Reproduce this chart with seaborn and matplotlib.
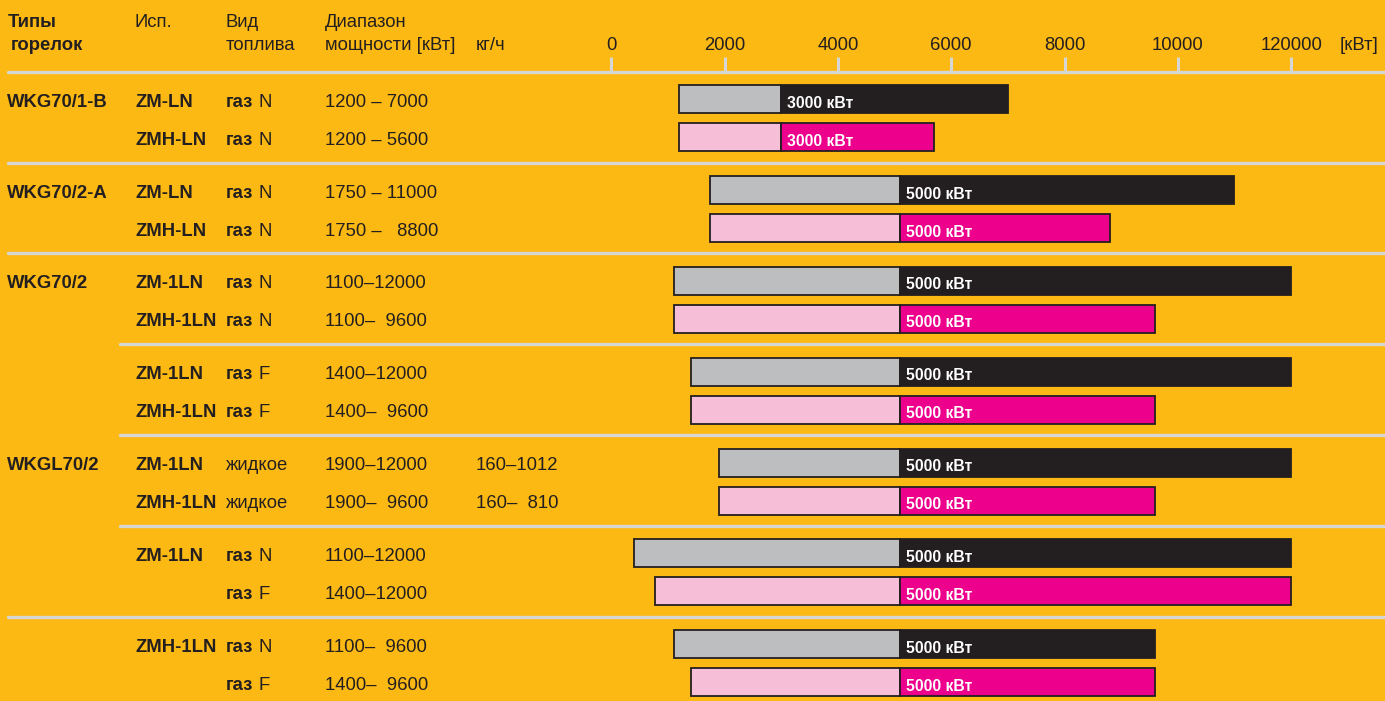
import matplotlib
matplotlib.use("Agg")
import matplotlib.pyplot as plt
import matplotlib.transforms as mtransforms
from matplotlib import font_manager
import numpy as np
import pandas as pd
import seaborn as sns

# --- chart data, rows top to bottom ---
MODELS = ["WKG70/1-B", "WKG70/2-A", "WKG70/2", "", "WKGL70/2", "", ""]
VERSIONS = ["ZM-LN", "ZMH-LN", "ZM-LN", "ZMH-LN", "ZM-1LN", "ZMH-1LN", "ZM-1LN",
            "ZMH-1LN", "ZM-1LN", "ZMH-1LN", "ZM-1LN", "", "ZMH-1LN", ""]
FUELS = ["газ N", "газ N", "газ N", "газ N", "газ N", "газ N", "газ F", "газ F",
         "жидкое", "жидкое", "газ N", "газ F", "газ N", "газ F"]
POWER_RANGES = ["1200 – 7000", "1200 – 5600", "1750 – 11000", "1750 –   8800",
                "1100–12000", "1100–  9600", "1400–12000", "1400–  9600",
                "1900–12000", "1900–  9600", "1100–12000", "1400–12000",
                "1100–  9600", "1400–  9600"]
MASS_RANGES = ["", "", "", "", "", "", "", "", "160–1012", "160–  810", "", "", "", ""]
BAR_START = [1200, 1200, 1750, 1750, 1100, 1100, 1400, 1400, 1900, 1900, 400, 770, 1100, 1400]
BAR_SWITCH = [3000, 3000, 5100, 5100, 5100, 5100, 5100, 5100, 5100, 5100, 5100, 5100, 5100, 5100]
BAR_END = [7000, 5700, 11000, 8800, 12000, 9600, 12000, 9600, 12000, 9600, 12000, 12000, 9600, 9600]
SWITCH_LABELS = ["3000 кВт", "3000 кВт"] + ["5000 кВт"] * 12
TICKS = [0, 2000, 4000, 6000, 8000, 10000, 12000]
TICK_LABELS = ["0", "2000", "4000", "6000", "8000", "10000", "120000"]

# --- layout (pixels of the 1385x701 picture) ---
W, H = 1385, 701
ROW0 = 99.3
GROUP_STEP = 90.8
ROW_STEP = 38.0
BAR_H = 28.0
SEP_OFFSET = 27.5
SEP_FULL = [True, True, True, False, False, False, True]
X0_PX = 611.3
PX_PER_KW = 0.05665

BG = "#FDB913"
INK = "#231F20"
RULE = "#D6D6D4"
LIGHT = ["#BCBEC0", "#F7BFD7"]
DARK = ["#231F20", "#EC008C"]
FS = 13.3

sns.set_theme(style="white")
installed = {f.name for f in font_manager.fontManager.ttflist}
FONT = "Liberation Sans" if "Liberation Sans" in installed else "DejaVu Sans"
plt.rcParams["font.family"] = [FONT, "DejaVu Sans"]

fig = plt.figure(figsize=(W / 100, H / 100), dpi=100, facecolor=BG)
ax = fig.add_axes([0, 0, 1, 1])
ax.set_facecolor(BG)

n = len(BAR_START)
ypos = [ROW0 + (i // 2) * GROUP_STEP + (i % 2) * ROW_STEP for i in range(n)]
df = pd.DataFrame({"y": ypos, "start": BAR_START, "switch": BAR_SWITCH, "end": BAR_END})
df["light"] = df["switch"] - df["start"]
df["dark"] = df["end"] - df["switch"]
frac = BAR_H / np.diff(df["y"]).min()

# light segment from start to switch, dark segment from switch to end
for col, left_col, pal in [("light", "start", LIGHT), ("dark", "switch", DARK)]:
    sns.barplot(data=df, x=col, y="y", orient="h", native_scale=True, width=frac,
                errorbar=None, color=pal[0], saturation=1,
                facecolor=[pal[i % 2] for i in range(n)],
                left=df[left_col].to_numpy(), edgecolor=INK, linewidth=1.3, ax=ax)

ax.set_xlim(-X0_PX / PX_PER_KW, (W - X0_PX) / PX_PER_KW)
ax.set_ylim(H, 0)
ax.set_axis_off()

# rules
for g, full in enumerate(SEP_FULL):
    y = ROW0 + g * GROUP_STEP - SEP_OFFSET
    ax.axhline(y, xmin=(8 if full else 120) / W, xmax=1, color=RULE, lw=2.4, zorder=1)
ax.vlines(TICKS, 57, ROW0 - SEP_OFFSET, color=RULE, lw=2.2, zorder=1)

# text helpers
tx = mtransforms.blended_transform_factory(fig.transFigure, ax.transData)


def put(px, y, s, bold=False, **kw):
    return ax.text(px / W, y, s, transform=tx, fontsize=FS, color=INK,
                   fontweight="bold" if bold else "normal", va="baseline", **kw)


# header
put(8, 27, "Типы", bold=True)
put(11, 49.5, "горелок", bold=True)
put(135, 27, "Исп.")
put(226, 27, "Вид")
put(226, 49.5, "топлива")
put(325, 27, "Диапазон")
put(325, 49.5, "мощности [кВт]")
put(476, 49.5, "кг/ч")
put(1340, 49.5, "[кВт]")
for t, lab in zip(TICKS, TICK_LABELS):
    ax.text(t, 49.5, lab, ha="center", va="baseline", fontsize=FS, color=INK)

# rows
for g, name in enumerate(MODELS):
    if name:
        put(7, ypos[2 * g] + 7.5, name, bold=True)

for i in range(n):
    yb = ypos[i] + 7.5
    if VERSIONS[i]:
        put(135, yb, VERSIONS[i], bold=True)
    fuel = FUELS[i]
    if fuel.startswith("газ"):
        head = put(226, yb, "газ", bold=True)
        ax.annotate(fuel.split()[1], xy=(1, 0), xycoords=head, xytext=(4, 0),
                    textcoords="offset points", va="bottom", ha="left",
                    fontsize=FS, color=INK)
    else:
        put(226, yb, fuel)
    put(325, yb, POWER_RANGES[i])
    if MASS_RANGES[i]:
        put(476, yb, MASS_RANGES[i])

lab_tr = mtransforms.offset_copy(ax.transData, fig=fig, x=6, y=0, units="dots")
for i in range(n):
    ax.text(BAR_SWITCH[i], ypos[i] + 8.5, SWITCH_LABELS[i], transform=lab_tr,
            color="white", fontweight="bold", fontsize=11.3, va="baseline", zorder=5)

fig.savefig("out.png", dpi=100, facecolor=BG)
